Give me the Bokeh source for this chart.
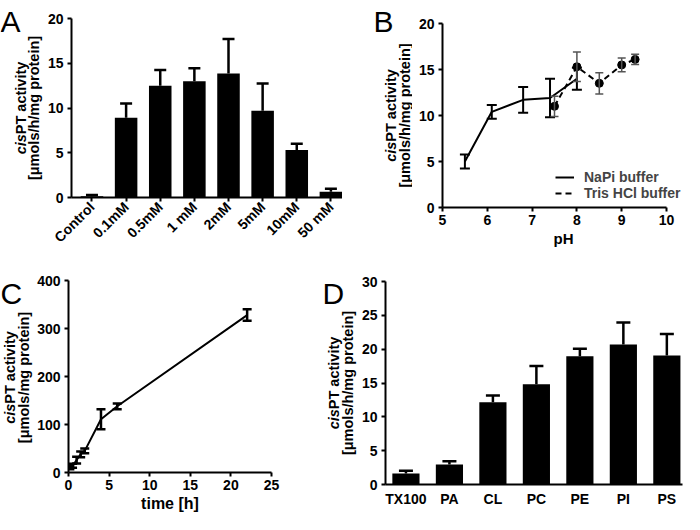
from math import pi
from bokeh.plotting import figure
from bokeh.models import (Range1d, FixedTicker, Whisker, TeeHead, ColumnDataSource,
                          Legend, LegendItem)
from bokeh.core.properties import value
from bokeh.layouts import column, row
from bokeh.embed import file_html
from bokeh.resources import INLINE

FONT = "Liberation Sans"

# ---------------- data ----------------
a_labels = ["Control", "0.1mM", "0.5mM", "1 mM", "2mM", "5mM", "10mM", "50 mM"]
a_values = [0.15, 8.9, 12.5, 13.0, 13.85, 9.7, 5.3, 0.65]
a_errors = [0.12, 1.6, 1.75, 1.45, 3.85, 3.05, 0.7, 0.33]

b_napi_ph = [5.5, 6.1, 6.8, 7.4, 8.0]
b_napi_act = [5.0, 10.4, 11.7, 11.9, 14.0]
b_napi_err = [0.75, 0.75, 1.4, 2.1, 1.2]
b_tris_ph = [7.5, 8.0, 8.5, 9.0, 9.3]
b_tris_act = [11.0, 15.3, 13.5, 15.5, 16.1]
b_tris_err = [1.1, 1.6, 1.15, 0.75, 0.55]

c_time = [0.17, 0.5, 1.0, 1.5, 2.0, 4.0, 6.0, 22.0]
c_act = [10, 14, 26, 38, 45, 111, 138, 328]
c_err = [3, 4, 7, 6, 5, 21, 6, 12]

d_labels = ["TX100", "PA", "CL", "PC", "PE", "PI", "PS"]
d_values = [1.63, 2.97, 12.15, 14.8, 18.95, 20.7, 19.05]
d_errors = [0.4, 0.47, 1.0, 2.7, 1.1, 3.25, 3.2]

a_yticks = [0, 5, 10, 15, 20]
b_xticks = [5, 6, 7, 8, 9, 10]
b_yticks = [0, 5, 10, 15, 20]
c_xticks = [0, 5, 10, 15, 20, 25]
c_yticks = [0, 100, 200, 300, 400]
d_yticks = [0, 5, 10, 15, 20, 25, 30]

ROW_H = 257


# ---------------- helpers ----------------
def make_fig(w, h, fl, fr, ft, fb, xr, yr):
    p = figure(width=w, height=h, x_range=Range1d(*xr), y_range=Range1d(*yr),
               output_backend="svg", toolbar_location=None,
               min_border_left=fl, min_border_right=w - fr,
               min_border_top=ft, min_border_bottom=h - fb)
    p.frame_align = False
    p.outline_line_color = None
    p.grid.visible = False
    p.background_fill_color = "white"
    p.border_fill_color = "white"
    for ax in (p.xaxis, p.yaxis):
        ax.axis_line_width = 2
        ax.axis_line_color = "black"
        ax.major_tick_line_width = 2
        ax.major_tick_line_color = "black"
        ax.major_tick_out = 4
        ax.major_tick_in = 0
        ax.minor_tick_line_color = None
        ax.major_label_text_font = FONT
        ax.major_label_text_font_size = "14px"
        ax.major_label_text_font_style = "bold"
        ax.major_label_text_color = "black"
        ax.axis_label_text_font = FONT
        ax.axis_label_text_font_style = "bold"
        ax.axis_label_text_color = "black"
    p.yaxis.major_label_standoff = 4
    p.xaxis.major_label_standoff = 3
    return p


def make_strip(w, h=ROW_H):
    s = figure(width=w, height=h, x_range=Range1d(0, w), y_range=Range1d(0, h),
               x_axis_type=None, y_axis_type=None, output_backend="svg",
               toolbar_location=None, min_border=0)
    s.frame_align = False
    s.outline_line_color = None
    s.background_fill_color = "white"
    s.border_fill_color = "white"
    return s


def strip_text(s, px, py, text, size, style="bold", angle=0.0,
               align="center", baseline="middle", h=ROW_H):
    s.text(x=[px], y=[h - py], text=[text], angle=angle, text_align=align,
           text_baseline=baseline, text_font=value(FONT), text_font_size=size,
           text_font_style=style, text_color="black")


def strip_ylabel(s, x1, x2, cy, unit_text, size=14.5):
    w_cis = 1.39 * size
    w_rest = 5.002 * size
    boundary = cy + (w_cis + w_rest) / 2 - w_cis
    fs = f"{size}px"
    strip_text(s, x1, boundary, "cis", fs, style="bold italic", angle=pi / 2, align="right")
    strip_text(s, x1, boundary, "PT activity", fs, style="bold", angle=pi / 2, align="left")
    strip_text(s, x2, cy, unit_text, fs, style="bold", angle=pi / 2, align="center")


def add_err(p, xs, lo, hi, size, color, width, lower_head=True):
    src = ColumnDataSource(dict(base=list(xs), lower=list(lo), upper=list(hi)))
    w = Whisker(source=src, base="base", lower="lower", upper="upper",
                dimension="height", line_color=color, line_width=width,
                upper_head=TeeHead(size=size, line_color=color, line_width=width),
                lower_head=TeeHead(size=size, line_color=color, line_width=width) if lower_head else None,
                level="annotation")
    p.add_layout(w)


# ---------------- panel A ----------------
sa = make_strip(44)
strip_ylabel(sa, 20.5, 33.7, (18 + 197) / 2, "[μmols/h/mg protein]")
strip_text(sa, 0, 21.3, "A", "30px", style="normal", align="left", baseline="alphabetic")

pa = make_fig(298, ROW_H, 26, 298, 18, 197, (-0.6, 7.34), (0, 20))
a_idx = list(range(len(a_labels)))
pa.vbar(x=a_idx, top=a_values, width=0.66, fill_color="black", line_color=None)
add_err(pa, a_idx, a_values, [v + e for v, e in zip(a_values, a_errors)], 12, "black", 2.5, lower_head=False)
pa.xaxis.ticker = FixedTicker(ticks=a_idx)
pa.xaxis.major_label_overrides = {i: lab for i, lab in zip(a_idx, a_labels)}
pa.xaxis.major_label_orientation = pi / 4
pa.yaxis.ticker = FixedTicker(ticks=a_yticks)

# ---------------- panel B ----------------
sb = make_strip(70)
strip_ylabel(sb, 48.8, 62.0, (23 + 207) / 2, "[μmols/h/mg protein]")
strip_text(sb, 31, 21.3, "B", "30px", style="normal", align="left", baseline="alphabetic")

pb = make_fig(272, ROW_H, 30, 272, 23, 207, (5, 10.402), (0, 20))
r_napi = pb.line(b_napi_ph, b_napi_act, line_color="black", line_width=2)
r_tris = pb.line(b_tris_ph, b_tris_act, line_color="black", line_width=2, line_dash="6 4")
pb.scatter(b_tris_ph, b_tris_act, size=8, fill_color="black", line_color="black")
add_err(pb, b_napi_ph, [v - e for v, e in zip(b_napi_act, b_napi_err)],
        [v + e for v, e in zip(b_napi_act, b_napi_err)], 10, "black", 2)
add_err(pb, b_tris_ph, [v - e for v, e in zip(b_tris_act, b_tris_err)],
        [v + e for v, e in zip(b_tris_act, b_tris_err)], 8, "#555555", 1.5)
pb.xaxis.ticker = FixedTicker(ticks=b_xticks)
pb.xaxis.bounds = (b_xticks[0], b_xticks[-1])
pb.yaxis.ticker = FixedTicker(ticks=b_yticks)
pb.xaxis.axis_label = "pH"
pb.xaxis.axis_label_text_font_size = "15px"
pb.xaxis.axis_label_standoff = 2
legend = Legend(items=[LegendItem(label="NaPi buffer", renderers=[r_napi]),
                       LegendItem(label="Tris HCl buffer", renderers=[r_tris])],
                location=(113, 6), label_text_font=FONT, label_text_font_size="14px",
                label_text_font_style="bold", glyph_width=19, glyph_height=16,
                label_height=16, label_standoff=10, spacing=0, padding=0, margin=0,
                border_line_alpha=0, background_fill_alpha=0)
pb.add_layout(legend)

# ---------------- panel C ----------------
sc = make_strip(34)
strip_ylabel(sc, 9.8, 23.0, (23 + 217) / 2, "[μmols/mg protein]")
strip_text(sc, 0, 36, "C", "30px", style="normal", align="left", baseline="alphabetic")

pc = make_fig(288, ROW_H, 32, 237, 23, 217, (0, 25), (0, 400))
pc.line(c_time, c_act, line_color="black", line_width=2)
add_err(pc, c_time, [v - e for v, e in zip(c_act, c_err)],
        [v + e for v, e in zip(c_act, c_err)], 9, "black", 2.5)
pc.xaxis.ticker = FixedTicker(ticks=c_xticks)
pc.yaxis.ticker = FixedTicker(ticks=c_yticks)
pc.xaxis.axis_label = "time [h]"
pc.xaxis.axis_label_text_font_size = "16px"
pc.xaxis.axis_label_standoff = 2

# ---------------- panel D ----------------
sd = make_strip(36)
strip_ylabel(sd, 11.2, 25.8, (24 + 227) / 2, "[μmols/h/mg protein]")
strip_text(sd, 0, 36, "D", "30px", style="normal", align="left", baseline="alphabetic")

pd_ = make_fig(326, ROW_H, 25, 324, 24, 227, (-0.47, 6.36), (0, 30))
d_idx = list(range(len(d_labels)))
pd_.vbar(x=d_idx, top=d_values, width=0.625, fill_color="black", line_color=None)
add_err(pd_, d_idx, d_values, [v + e for v, e in zip(d_values, d_errors)], 14, "black", 2.5, lower_head=False)
pd_.xaxis.ticker = FixedTicker(ticks=d_idx)
pd_.xaxis.major_label_overrides = {i: lab for i, lab in zip(d_idx, d_labels)}
pd_.xaxis.major_tick_out = 0
pd_.xaxis.major_label_standoff = 6
pd_.yaxis.ticker = FixedTicker(ticks=d_yticks)

layout = column(row(sa, pa, sb, pb), row(sc, pc, sd, pd_))
open("out.html", "w").write(file_html(layout, INLINE))
